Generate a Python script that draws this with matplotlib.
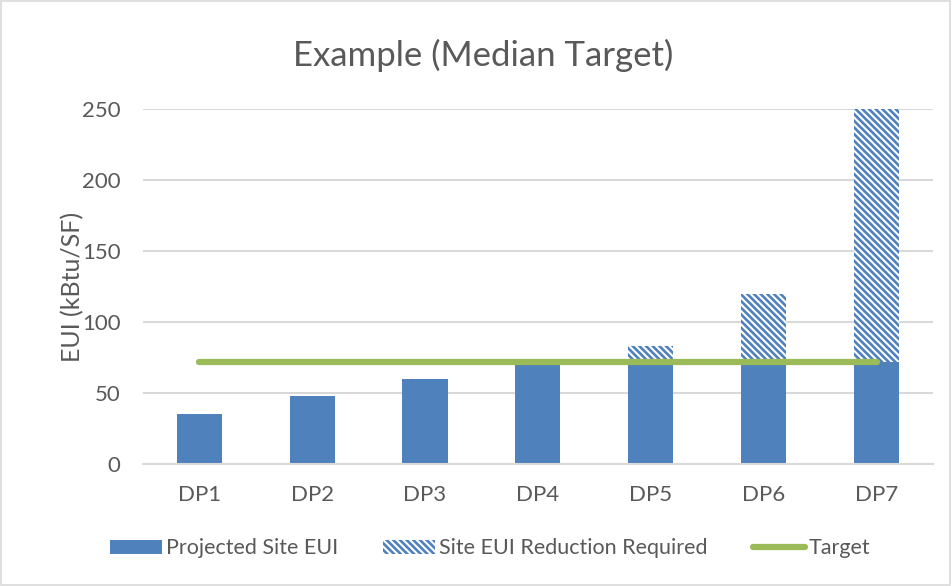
import numpy as np
import matplotlib
matplotlib.use("Agg")
import matplotlib.pyplot as plt
from matplotlib.patches import Rectangle, Patch
from matplotlib.lines import Line2D

# datos
categories = ["DP1", "DP2", "DP3", "DP4", "DP5", "DP6", "DP7"]
projected = [35, 48, 60, 72, 72, 72, 72]
reduction = [0, 0, 0, 0, 11, 48, 178]
target = [72, 72, 72, 72, 72, 72, 72]
yticks = [0, 50, 100, 150, 200, 250]

blue = "#4F81BD"
green = "#9BBB59"
gray_txt = "#595959"
grid_c = "#D9D9D9"
hatch = "\\" * 5

plt.rcParams["font.family"] = ["Lato", "DejaVu Sans"]
plt.rcParams["hatch.linewidth"] = 1.9

fig = plt.figure(figsize=(9.52, 5.86), dpi=100)
ax = fig.add_axes([0.150, 0.208, 0.830, 0.606])

x = np.arange(len(categories))
ax.bar(x, projected, width=0.4, color=blue, zorder=2)
ax.bar(x, reduction, width=0.4, bottom=projected, facecolor="white",
       edgecolor=blue, linewidth=0, hatch=hatch, zorder=2)
ax.plot(x, target, color=green, lw=4.5, solid_capstyle="round", zorder=3)

ax.set_xlim(-0.5, len(categories) - 0.5)
ax.set_ylim(0, 250)
ax.set_yticks(yticks)
ax.set_xticks(x)
ax.set_xticklabels(categories)
ax.yaxis.grid(True, color=grid_c, lw=1.5, zorder=0)
ax.set_axisbelow(True)
for s in ["top", "right", "left"]:
    ax.spines[s].set_visible(False)
ax.spines["bottom"].set_color(grid_c)
ax.spines["bottom"].set_linewidth(1.5)
ax.tick_params(length=0, labelsize=16, colors=gray_txt)
ax.tick_params(axis="x", pad=15)
ax.tick_params(axis="y", pad=16)
ax.set_ylabel("EUI (kBtu/SF)", fontsize=18, color=gray_txt, labelpad=-2)

fig.text(0.508, 0.905, "Example (Median Target)", ha="center", va="center",
         fontsize=25, color=gray_txt)

handles = [Patch(facecolor=blue, edgecolor="none"),
           Patch(facecolor="white", edgecolor=blue, linewidth=0, hatch=hatch),
           Line2D([0], [0], color=green, lw=4.5, solid_capstyle="round")]
labels = ["Projected Site EUI", "Site EUI Reduction Required", "Target"]
leg = fig.legend(handles, labels, loc="center", bbox_to_anchor=(0.515, 0.064),
                 ncol=3, frameon=False, fontsize=15.5, handlelength=2.4,
                 handleheight=0.6, handletextpad=0.2, columnspacing=2.1)
for t in leg.get_texts():
    t.set_color(gray_txt)

fig.patches.append(Rectangle((0.001, 0.002), 0.997, 0.996, transform=fig.transFigure,
                             fill=False, edgecolor=grid_c, lw=1.2))

fig.savefig("out.png", dpi=100)
